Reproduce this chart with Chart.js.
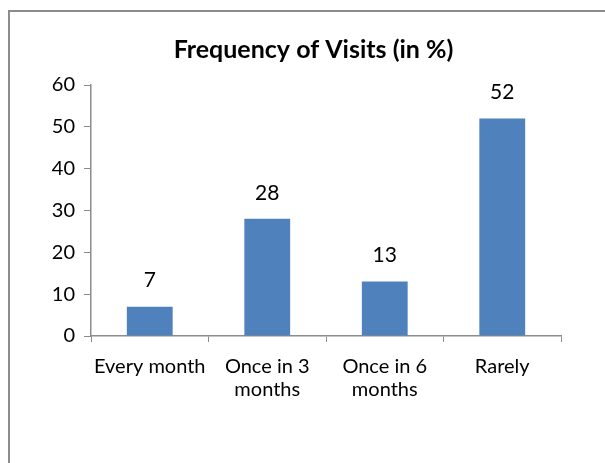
<!DOCTYPE html>
<html>
<head>
<meta charset="utf-8">
<script src="https://cdn.jsdelivr.net/npm/chart.js@4"></script>
<style>
  html, body { margin: 0; padding: 0; background: #fff; overflow: hidden; }
  #wrap { position: relative; width: 605px; height: 463px; }
  #frame { position: absolute; left: 8px; top: 10px; width: 640px; height: 500px;
           border-top: 2px solid #8c8c8c; border-left: 2px solid #8c8c8c; }
  canvas { position: absolute; left: 0; top: 0; }
</style>
</head>
<body>
<div id="wrap">
  <div id="frame"></div>
  <canvas id="mycanvas" width="605" height="463"></canvas>
</div>
<script>
var categories = ["Every month", ["Once in 3", "months"], ["Once in 6", "months"], "Rarely"];
var visits = [7, 28, 13, 52];
var yTicks = [0, 10, 20, 30, 40, 50, 60];

var fontName = "Lato, 'Open Sans', sans-serif";
var axisGray = "#8c8c8c";

// draws the value above each bar
var barLabels = {
  id: "barLabels",
  afterDatasetsDraw: function(chart) {
    var ctx = chart.ctx;
    var meta = chart.getDatasetMeta(0);
    ctx.save();
    ctx.font = "21px " + fontName;
    ctx.fillStyle = "#000";
    ctx.textAlign = "center";
    ctx.textBaseline = "middle";
    meta.data.forEach(function(bar, i) {
      ctx.fillText(String(visits[i]), bar.x, bar.y - 26);
    });
    ctx.restore();
  }
};

var ctx = document.getElementById("mycanvas");

var BarGraph = new Chart(ctx, {
  type: "bar",
  data: {
    labels: categories,
    datasets: [{
      label: "Frequency of Visits (in %)",
      data: visits,
      backgroundColor: "#4f81bd",
      borderWidth: 0,
      categoryPercentage: 1,
      barPercentage: 0.39
    }]
  },
  options: {
    responsive: false,
    animation: false,
    // left padding pushes the centred title a bit right, like the original
    layout: { padding: { left: 22, right: 0, top: 10, bottom: 0 } },
    plugins: {
      legend: { display: false },
      tooltip: { enabled: false },
      title: {
        display: true,
        text: "Frequency of Visits (in %)",
        color: "#000",
        font: { family: fontName, size: 25, weight: "bold" },
        padding: { top: 25, bottom: 20 }
      }
    },
    scales: {
      x: {
        grid: { drawOnChartArea: false, drawTicks: true, tickLength: 6, color: axisGray, offset: true },
        border: { display: true, color: axisGray, width: 1.5 },
        ticks: {
          color: "#000",
          padding: 13,
          maxRotation: 0,
          autoSkip: false,
          font: { family: fontName, size: 20, lineHeight: 1.15 }
        },
        afterFit: function(scale) { scale.height = 127; }
      },
      y: {
        min: 0,
        max: 60,
        afterBuildTicks: function(scale) {
          scale.ticks = yTicks.map(function(v) { return { value: v }; });
        },
        grid: { drawOnChartArea: false, drawTicks: true, tickLength: 7, color: axisGray },
        border: { display: true, color: axisGray, width: 1.5 },
        ticks: {
          color: "#000",
          padding: 9,
          font: { family: fontName, size: 20 }
        },
        afterFit: function(scale) { scale.width = 69; }
      },
      // empty right-hand box that keeps the plot clear of the right edge
      yRight: {
        position: "right",
        display: true,
        grid: { display: false },
        border: { display: false },
        ticks: { display: false },
        afterFit: function(scale) { scale.width = 44; }
      }
    }
  },
  plugins: [barLabels]
});
</script>
</body>
</html>
